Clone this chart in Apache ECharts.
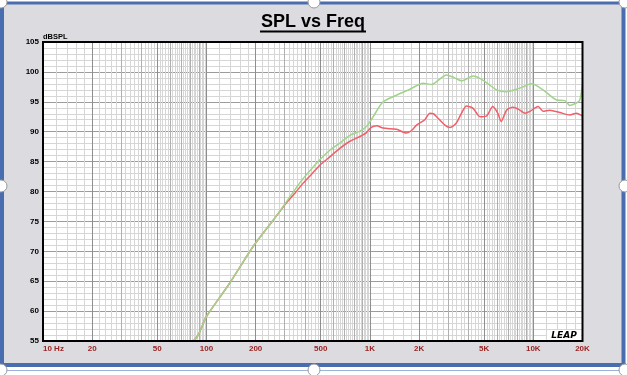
<!DOCTYPE html>
<html>
<head>
<meta charset="utf-8">
<script src="https://cdn.jsdelivr.net/npm/echarts@6/dist/echarts.min.js"></script>
<style>
html,body{margin:0;padding:0;background:#fff;}
#chart{width:627px;height:375px;}
</style>
</head>
<body>
<div id="chart"></div>
<script>
// ---- data ----
const greenFreq = [10, 81.5, 100, 139, 193, 256, 309, 350, 391, 440, 494, 569, 655, 755, 870, 955, 1047, 1205, 1455, 1757, 2120, 2384, 2944, 3300, 3637, 4285, 4933, 5955, 6857, 7892, 8660, 9747, 11480, 13870, 15590, 16720, 18360, 19200, 20000];
const greenDb   = [55, 55, 59.1, 64.7, 70.8, 75.2, 78.3, 80.4, 82.2, 83.8, 85.3, 86.9, 88.1, 89.4, 90.1, 90.9, 92.5, 95.0, 96.1, 97.1, 98.1, 97.9, 99.5, 99.0, 98.5, 99.3, 98.6, 97.0, 96.7, 97.1, 97.5, 98.0, 97.0, 95.3, 95.2, 94.4, 94.8, 95.2, 97.8];
const redFreq = [10, 81.5, 100, 139, 193, 256, 309, 350, 391, 440, 494, 569, 655, 755, 870, 950, 1015, 1100, 1205, 1455, 1670, 1800, 1930, 2170, 2328, 2450, 2560, 2880, 3100, 3370, 3637, 3900, 4285, 4720, 5160, 5650, 6060, 6360, 6860, 7530, 8280, 8890, 9520, 10720, 11480, 12610, 14550, 16720, 18360, 20000];
const redDb   = [55, 55, 59.1, 64.7, 70.8, 75.2, 78.1, 79.8, 81.4, 82.9, 84.4, 85.8, 87.2, 88.4, 89.2, 89.8, 90.7, 91.0, 90.6, 90.4, 89.8, 90.2, 91.1, 92.0, 93.1, 93.0, 92.5, 91.1, 90.7, 91.4, 93.1, 94.3, 93.9, 92.5, 92.6, 94.2, 93.1, 91.7, 93.6, 94.1, 93.6, 93.1, 93.4, 94.2, 93.4, 93.6, 93.2, 92.8, 93.1, 92.6];
const xTickValues = [10, 20, 50, 100, 200, 500, 1000, 2000, 5000, 10000, 20000];
const xTickLabels = ['10 Hz', '20', '50', '100', '200', '500', '1K', '2K', '5K', '10K', '20K'];
const yMin = 55, yMax = 105, yStep = 5;

// ---- grid line frequencies (decoration) ----
const fineLines = [], midLines = [], darkLines = [];
[10, 100, 1000, 10000].forEach(function (b) {
  for (let i = 1; i <= 44; i++) {
    const k10 = 10 + 2 * i;
    const f = b * k10 / 10;
    if (f >= 20000) continue;
    if (k10 === 20 || k10 === 50) darkLines.push(f);
    else if (k10 % 10 === 0) midLines.push(f);
    else fineLines.push(f);
  }
  if (b > 10) darkLines.push(b);
});
function vLines(arr) { return arr.map(function (f) { return { xAxis: f }; }); }
function pairs(xs, ys) { return xs.map(function (x, i) { return [x, ys[i]]; }); }
function gridSeries(arr, color, z) {
  return {
    type: 'line', data: [], silent: true, z: z,
    markLine: {
      silent: true, symbol: ['none', 'none'], label: { show: false }, animation: false,
      lineStyle: { color: color, width: 1, type: 'solid' },
      emphasis: { disabled: true },
      data: vLines(arr)
    }
  };
}

const PL = 43, PR = 582.5, PT = 42, PB = 341;
const chart = echarts.init(document.getElementById('chart'), null, { renderer: 'canvas' });
const handles = [[1, 2], [314, 2], [625, 2], [1, 186], [625, 186], [1, 370], [314, 370], [625, 370]];

chart.setOption({
  animation: false,
  backgroundColor: '#ffffff',
  grid: { left: PL, right: 627 - PR, top: PT, bottom: 375 - PB, containLabel: false },
  xAxis: {
    type: 'log', logBase: 10, min: 10, max: 20000,
    axisLine: { show: false }, axisTick: { show: false },
    splitLine: { show: false },
    axisLabel: {
      customValues: xTickValues,
      alignMinLabel: 'left',
      hideOverlap: false,
      margin: 4,
      color: '#9a2222', fontWeight: 'bold', fontSize: 8, fontFamily: 'Liberation Sans',
      formatter: function (v) {
        let best = 0;
        xTickValues.forEach(function (t, i) { if (Math.abs(Math.log10(t) - Math.log10(v)) < Math.abs(Math.log10(xTickValues[best]) - Math.log10(v))) best = i; });
        return xTickLabels[best];
      }
    }
  },
  yAxis: {
    type: 'value', min: yMin, max: yMax, interval: yStep,
    axisLine: { show: false }, axisTick: { show: false },
    axisLabel: { color: '#000', fontWeight: 'bold', fontSize: 8, fontFamily: 'Liberation Sans', margin: 4 },
    splitLine: { show: true, lineStyle: { color: '#9c9c9c', width: 1 } },
    minorTick: { show: false, splitNumber: 5 },
    minorSplitLine: { show: true, lineStyle: { color: '#d6d6d6', width: 1 } }
  },
  graphic: [
    { type: 'rect', silent: true, z: -100, shape: { x: 4, y: 4, width: 618, height: 359 }, style: { fill: '#dcdce0' } },
    { type: 'rect', silent: true, z: -99, shape: { x: 0, y: 1.5, width: 626, height: 3 }, style: { fill: '#4a6db0' } },
    { type: 'rect', silent: true, z: -99, shape: { x: 0, y: 0, width: 4, height: 367 }, style: { fill: '#4a6db0' } },
    { type: 'rect', silent: true, z: -99, shape: { x: 621.5, y: 0, width: 4, height: 367 }, style: { fill: '#4a6db0' } },
    { type: 'rect', silent: true, z: -99, shape: { x: 0, y: 363, width: 625.5, height: 4 }, style: { fill: '#4a6db0' } },
    { type: 'line', silent: true, z: -98, shape: { x1: 0, y1: 370.5, x2: 627, y2: 370.5 }, style: { stroke: '#9fb2da', lineWidth: 1 } },
    { type: 'rect', silent: true, z: -50, shape: { x: PL, y: PT, width: PR - PL, height: PB - PT }, style: { fill: '#ffffff' } },
    { type: 'rect', silent: true, z: 100, shape: { x: PL, y: PT, width: PR - PL, height: PB - PT }, style: { fill: null, stroke: '#000', lineWidth: 2 } },
    { type: 'text', silent: true, z: 100, x: 313, y: 22, style: { text: 'SPL vs Freq', fill: '#000', font: 'bold 18px "Liberation Sans", Arial, sans-serif', textAlign: 'center', textVerticalAlign: 'middle' } },
    { type: 'line', silent: true, z: 100, shape: { x1: 260, y1: 31.5, x2: 366, y2: 31.5 }, style: { stroke: '#000', lineWidth: 2 } },
    { type: 'text', silent: true, z: 100, x: 43, y: 37, style: { text: 'dBSPL', fill: '#000', font: 'bold 7.5px "Liberation Sans", Arial, sans-serif', textAlign: 'left', textVerticalAlign: 'middle' } },
    { type: 'rect', silent: true, z: 101, shape: { x: 547, y: 330, width: 34, height: 10 }, style: { fill: '#ffffff' } },
    { type: 'text', silent: true, z: 102, x: 564, y: 335.5, style: { text: 'LEAP', fill: '#000', font: 'italic bold 9px "DejaVu Sans", sans-serif', textAlign: 'center', textVerticalAlign: 'middle' } }
  ].concat(handles.map(function (h) {
    return { type: 'circle', silent: true, z: 200, shape: { cx: h[0], cy: h[1], r: 6 }, style: { fill: '#ffffff', stroke: '#9a9a9a', lineWidth: 1 } };
  })),
  series: [
    gridSeries(fineLines, '#d6d6d6', 1),
    gridSeries(midLines, '#b0b0b0', 1),
    gridSeries(darkLines, '#8e8e8e', 1),
    {
      name: 'red', type: 'line', z: 5, data: pairs(redFreq, redDb),
      showSymbol: false, smooth: 0.25, clip: true,
      lineStyle: { color: '#f06068', width: 1.5 }
    },
    {
      name: 'green', type: 'line', z: 6, data: pairs(greenFreq, greenDb),
      showSymbol: false, smooth: 0.25, clip: true,
      lineStyle: { color: '#9fd48a', width: 1.5 }
    }
  ]
});
</script>
</body>
</html>
